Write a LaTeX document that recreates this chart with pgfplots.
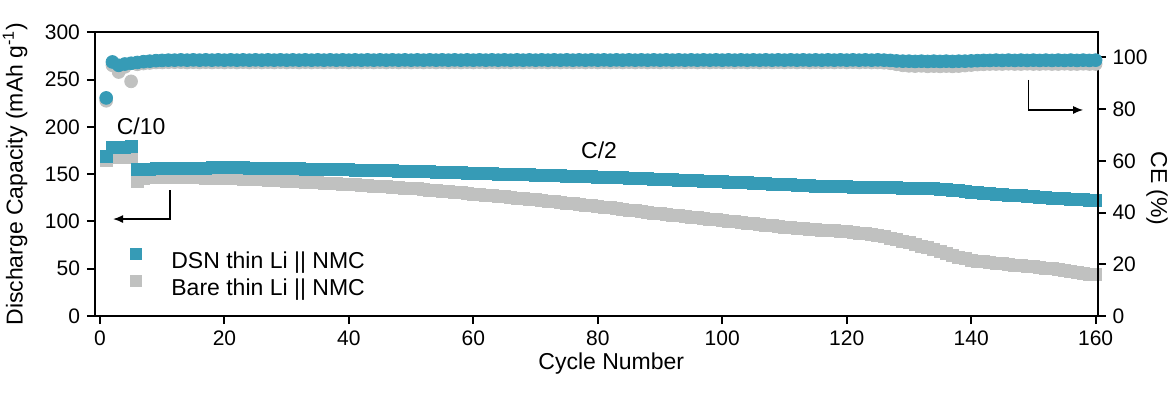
\documentclass[border=0pt]{standalone}
\usepackage{fontspec}
\setmainfont{Liberation Sans}
\usepackage{pgfplots}
\pgfplotsset{compat=1.18}
\usepackage{pgfplotstable}
\usetikzlibrary{arrows.meta}
\definecolor{dsnblue}{RGB}{54,155,182}
\definecolor{baregray}{RGB}{192,193,192}
\pgfplotstableread{
c bc gc be ge
1 168.5 165 84.3 83.2
2 178 167.5 98.2 96.9
3 178.5 167.5 96.9 94.3
4 178.5 168 97.4 96.3
5 179 168 97.7 90.7
6 155 142 98.0 97.3
7 155.5 145 98.3 97.6
8 155.5 146.5 98.5 97.8
9 156 146.5 98.7 98.0
10 156 146.5 98.8 98.0
11 156 146.5 98.9 98.1
12 156.5 146.5 98.9 98.1
13 156.5 146 99.0 98.1
14 156.5 146 98.9 98.0
15 156.5 146 99.0 98.1
16 156.5 146 98.9 98.0
17 156.5 145.5 99.0 98.1
18 157 145.5 98.9 98.0
19 157 145.5 99.0 98.1
20 157 145 98.9 98.0
21 157 145 99.0 98.1
22 157 145 98.9 98.0
23 157 144.5 99.0 98.1
24 156.5 144.5 98.9 98.0
25 156.5 144 99.0 98.1
26 156.5 144 98.9 98.0
27 156.5 143.5 99.0 98.1
28 156 143.5 98.9 98.0
29 156 143 99.0 98.1
30 156 142.5 98.9 98.0
31 155.8 142.2 99.0 98.1
32 155.6 142 98.9 98.0
33 155.5 141.6 99.0 98.1
34 155.4 141.3 98.9 98.0
35 155.3 141 99.0 98.1
36 155.1 140.6 98.9 98.0
37 155 140.2 99.0 98.1
38 154.8 139.8 98.9 98.0
39 154.7 139.4 99.0 98.1
40 154.5 139 98.9 98.0
41 154.4 138.6 99.0 98.1
42 154.2 138.2 98.9 98.0
43 154.1 137.8 99.0 98.1
44 153.9 137.4 98.9 98.0
45 153.8 137 99.0 98.1
46 153.6 136.6 98.9 98.0
47 153.5 136.2 99.0 98.1
48 153.3 135.8 98.9 98.0
49 153.2 135.4 99.0 98.1
50 153 135 98.9 98.0
51 152.8 134.4 99.0 98.1
52 152.6 133.8 98.9 98.0
53 152.4 133.2 99.0 98.1
54 152.2 132.6 98.9 98.0
55 152 132 99.0 98.1
56 151.8 131.4 98.9 98.0
57 151.6 130.8 99.0 98.1
58 151.4 130.2 98.9 98.0
59 151.2 129.6 99.0 98.1
60 151 129 98.9 98.0
61 150.8 128.4 99.0 98.1
62 150.6 127.8 98.9 98.0
63 150.4 127.2 99.0 98.1
64 150.2 126.6 98.9 98.0
65 150 126 99.0 98.1
66 149.8 125.4 98.9 98.0
67 149.6 124.8 99.0 98.1
68 149.4 124.2 98.9 98.0
69 149.2 123.6 99.0 98.1
70 149 123 98.9 98.0
71 148.8 122.3 99.0 98.1
72 148.6 121.6 98.9 98.0
73 148.4 120.9 99.0 98.1
74 148.2 120.2 98.9 98.0
75 148 119.5 99.0 98.1
76 147.8 118.8 98.9 98.0
77 147.6 118.1 99.0 98.1
78 147.4 117.4 98.9 98.0
79 147.2 116.7 99.0 98.1
80 147 116 98.9 98.0
81 146.8 115.2 99.0 98.1
82 146.5 114.4 98.9 98.0
83 146.2 113.6 99.0 98.1
84 146 112.8 98.9 98.0
85 145.8 112 99.0 98.1
86 145.5 111.2 98.9 98.0
87 145.2 110.4 99.0 98.1
88 145 109.6 98.9 98.0
89 144.8 108.8 99.0 98.1
90 144.5 108 98.9 98.0
91 144.2 107.3 99.0 98.1
92 144 106.6 98.9 98.0
93 143.8 105.9 99.0 98.1
94 143.5 105.2 98.9 98.0
95 143.2 104.5 99.0 98.1
96 143 103.8 98.9 98.0
97 142.8 103.1 99.0 98.1
98 142.5 102.4 98.9 98.0
99 142.2 101.7 99.0 98.1
100 142 101 98.9 98.0
101 141.7 100.3 99.0 98.1
102 141.4 99.6 98.9 98.0
103 141.1 98.9 99.0 98.1
104 140.8 98.2 98.9 98.0
105 140.5 97.5 99.0 98.1
106 140.2 96.8 98.9 98.0
107 139.9 96.1 99.0 98.1
108 139.6 95.4 98.9 98.0
109 139.3 94.7 99.0 98.1
110 139 94 98.9 98.0
111 138.7 93.5 99.0 98.1
112 138.4 93 98.9 98.0
113 138.1 92.5 99.0 98.1
114 137.8 92 98.9 98.0
115 137.5 91.5 99.0 98.1
116 137.3 91 98.9 98.0
117 137.1 90.5 99.0 98.1
118 136.9 90 98.9 98.0
119 136.7 89.5 99.0 98.1
120 136.5 89 98.9 98.0
121 136.4 88.3 99.0 98.1
122 136.3 87.5 98.9 98.0
123 136.2 86.8 99.0 98.1
124 136 86 98.9 98.0
125 135.9 85 99.0 98.0
126 135.7 84 98.9 97.9
127 135.6 82.5 98.8 97.7
128 135.5 81 98.6 97.3
129 135.4 79.3 98.5 96.9
130 135.3 77.7 98.5 96.7
131 135.2 76 98.4 96.6
132 135 74 98.5 96.7
133 134.8 72 98.4 96.5
134 134.5 70 98.5 96.6
135 134 68 98.4 96.5
136 133.5 66 98.5 96.6
137 133 64 98.4 96.5
138 132.5 62.3 98.5 96.6
139 131.8 60.6 98.5 96.8
140 131 59 98.6 97.0
141 130.5 58.2 98.7 97.2
142 130 57.3 98.8 97.3
143 129.5 56.5 98.8 97.4
144 129 55.8 98.9 97.4
145 128.5 55.2 98.8 97.4
146 128 54.5 98.9 97.5
147 127.5 53.8 98.8 97.4
148 127 53.2 98.9 97.4
149 126.5 52.6 98.8 97.5
150 126 52 98.9 97.4
151 125.6 51.3 98.8 97.4
152 125.2 50.6 98.9 97.5
153 124.8 49.9 98.8 97.4
154 124.4 49.2 98.9 97.4
155 124 48.5 98.8 97.5
156 123.6 47.5 98.9 97.4
157 123.2 46.5 98.8 97.4
158 122.8 45.5 98.9 97.5
159 122.4 44.5 98.8 97.4
160 122 43.5 98.9 97.4
}\data

\pgfplotsset{
  common/.style={
    at={(0,0)}, anchor=south west,
    scale only axis, width=501.25pt, height=141.9pt,
    xmin=-0.8, xmax=160.3,
    tick align=outside, major tick length=4pt,
    axis line style={line width=1pt},
    every tick/.style={line width=1pt, black},
    tick label style={font=\fontsize{10.5}{12}\selectfont},
    label style={font=\fontsize{11.5}{13}\selectfont},
    /pgf/number format/assume math mode=true,
  }
}

\begin{document}
\begin{tikzpicture}
\path[use as bounding box] (-47.5pt,-38.5pt) rectangle (539.5pt,158pt);
\begin{axis}[
  common,
  ymin=0, ymax=300,
  xtick={0,20,...,160}, ytick={0,50,...,300},
  xtick pos=bottom, ytick pos=left,
  xlabel={Cycle Number},
  ylabel={Discharge Capacity (mAh g\textsuperscript{-1})},
  xlabel style={at={(axis description cs:0.515,0)}, anchor=base, yshift=-26.5pt},
  ylabel style={at={(axis description cs:-0.0798,0.5)}, anchor=center},
  legend style={at={(axis description cs:0.0349,0.2396)}, anchor=north west,
    draw=none, fill=none, inner sep=0pt, row sep=0pt,
    font=\fontsize{11.5}{13}\selectfont,
    nodes={text height=8.5pt, text depth=2.5pt, inner ysep=1pt}},
  legend image code/.code={\path[draw=none, fill=none] (-3pt,0pt) -- (15.5pt,0pt);
    \fill[#1, draw=none] (-3pt,1pt) rectangle (3pt,7pt);},
  legend cell align=left,
]
\addplot[only marks, mark=square*, mark size=3pt, color=baregray, forget plot] table[x=c,y=gc]{\data};
\addplot[only marks, mark=square*, mark size=3pt, color=dsnblue, forget plot] table[x=c,y=bc]{\data};
\addlegendimage{fill=dsnblue}
\addlegendentry{DSN thin Li || NMC}
\addlegendimage{fill=baregray}
\addlegendentry{Bare thin Li || NMC}
\node[font=\fontsize{11.5}{13}\selectfont] at (axis cs:6.6,200.3) {C/10};
\node[font=\fontsize{11.5}{13}\selectfont] at (axis cs:80.2,175) {C/2};
\draw[line width=0.75pt, -{Latex[length=5pt,width=4pt]}] (axis cs:11.25,133.2) -- (axis cs:11.25,102.5) -- (axis cs:2.1,102.5);
\draw[line width=0.75pt, -{Latex[length=5pt,width=4pt]}] (axis cs:149.2,249.5) -- (axis cs:149.2,217.8) -- (axis cs:158,217.8);
\end{axis}
\begin{axis}[
  common,
  ymin=0, ymax=109.7,
  axis x line=none, axis y line*=right,
  ytick={0,20,...,100},
  ylabel={CE (\%)},
  ylabel style={at={(axis description cs:1.0594,0.449)}, anchor=center, rotate=180},
]
\addplot[only marks, mark=*, mark size=3.2pt, color=baregray] table[x=c,y=ge]{\data};
\addplot[only marks, mark=*, mark size=3.2pt, color=dsnblue] table[x=c,y=be]{\data};
\end{axis}
\end{tikzpicture}
\end{document}
